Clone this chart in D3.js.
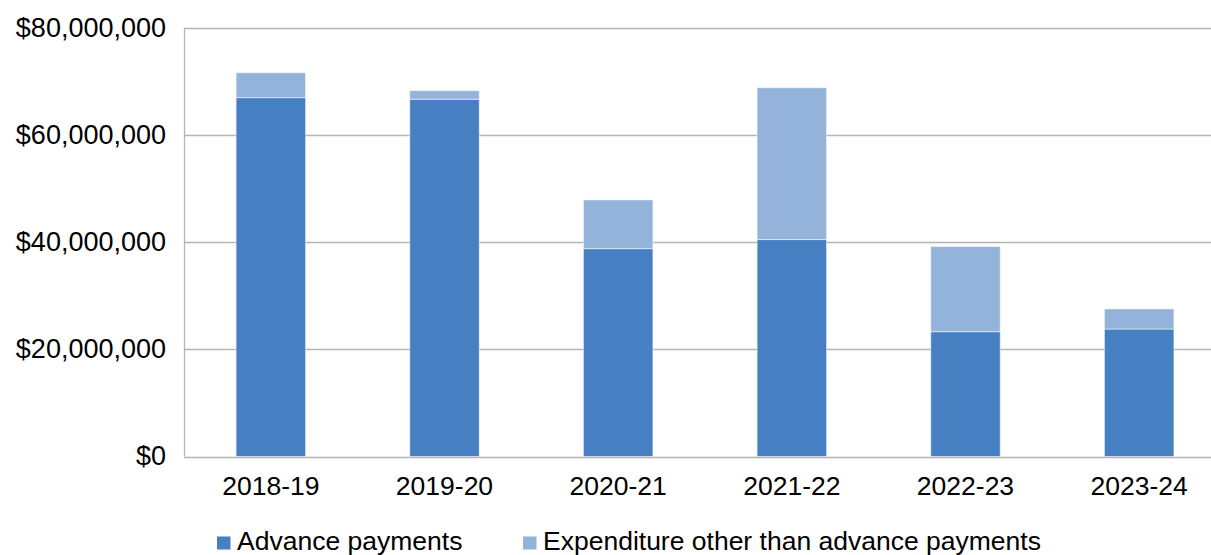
<!DOCTYPE html>
<html>
<head>
<meta charset="utf-8">
<script src="https://cdn.jsdelivr.net/npm/d3@7"></script>
<style>
  body { margin: 0; background: #fff; overflow: hidden; }
  text { font-family: "Liberation Sans", Arial, sans-serif; fill: #000; }
</style>
</head>
<body>
<svg id="chart"></svg>
<script>
// data
var years = ["2018-19", "2019-20", "2020-21", "2021-22", "2022-23", "2023-24"];
var advance = [67000000, 66700000, 38800000, 40500000, 23300000, 23800000];
var other = [4650000, 1600000, 9100000, 28350000, 15900000, 3750000];
var seriesNames = ["Advance payments", "Expenditure other than advance payments"];
var yTicks = [0, 20000000, 40000000, 60000000, 80000000];

var colors = ["#4680c2", "#93b3da"];

var width = 1211, height = 555;
var margin = { top: 28, left: 184 };
var plotRight = 1226; // plot runs a bit past the picture edge
var plotBottom = 456.5;

var svg = d3.select("#chart")
  .attr("width", width)
  .attr("height", height);

var rows = years.map((y, i) => ({ year: y, advance: advance[i], other: other[i] }));
var stack = d3.stack().keys(["advance", "other"]);
var layers = stack(rows);

var x = d3.scaleBand()
  .domain(years)
  .range([margin.left, plotRight])
  .paddingInner(0.6)
  .paddingOuter(0.3);

var y = d3.scaleLinear()
  .domain([0, 80000000])
  .range([plotBottom, margin.top]);

// gridlines
svg.append("g")
  .selectAll("line")
  .data(yTicks)
  .enter()
  .append("line")
  .attr("x1", margin.left)
  .attr("x2", width)
  .attr("y1", d => Math.round(y(d)) + 0.5)
  .attr("y2", d => Math.round(y(d)) + 0.5)
  .attr("stroke", "#b4b4b4")
  .attr("stroke-width", 1.3);

// left axis line
svg.append("line")
  .attr("x1", margin.left + 0.5)
  .attr("x2", margin.left + 0.5)
  .attr("y1", y(80000000))
  .attr("y2", y(0))
  .attr("stroke", "#b4b4b4")
  .attr("stroke-width", 1.3);

// y labels
var fmt = d3.format("$,");
svg.append("g")
  .selectAll("text")
  .data(yTicks)
  .enter()
  .append("text")
  .attr("x", 166)
  .attr("y", d => y(d) + 8.5)
  .attr("text-anchor", "end")
  .style("font-size", "27px")
  .text(d => fmt(d));

// bars
svg.append("g")
  .selectAll("g")
  .data(layers)
  .enter()
  .append("g")
  .attr("fill", (d, i) => colors[i])
  .selectAll("rect")
  .data(d => d)
  .enter()
  .append("rect")
  .attr("x", d => x(d.data.year))
  .attr("width", x.bandwidth())
  .attr("y", d => y(d[1]))
  .attr("height", d => y(d[0]) - y(d[1]))
  .attr("stroke", "#ffffff")
  .attr("stroke-opacity", 0.5)
  .attr("stroke-width", 1);

// x labels
svg.append("g")
  .selectAll("text")
  .data(years)
  .enter()
  .append("text")
  .attr("x", d => x(d) + x.bandwidth() / 2)
  .attr("y", 495)
  .attr("text-anchor", "middle")
  .style("font-size", "26.5px")
  .text(d => d);

// legend
var legendX = [217, 523];
var legend = svg.append("g")
  .selectAll("g")
  .data(seriesNames)
  .enter()
  .append("g")
  .attr("transform", (d, i) => `translate(${legendX[i]},0)`);

legend.append("rect")
  .attr("x", 0)
  .attr("y", 536.5)
  .attr("width", 13.5)
  .attr("height", 13)
  .attr("fill", (d, i) => colors[i]);

legend.append("text")
  .attr("x", 20)
  .attr("y", 549.5)
  .style("font-size", "26.5px")
  .text(d => d);
</script>
</body>
</html>
